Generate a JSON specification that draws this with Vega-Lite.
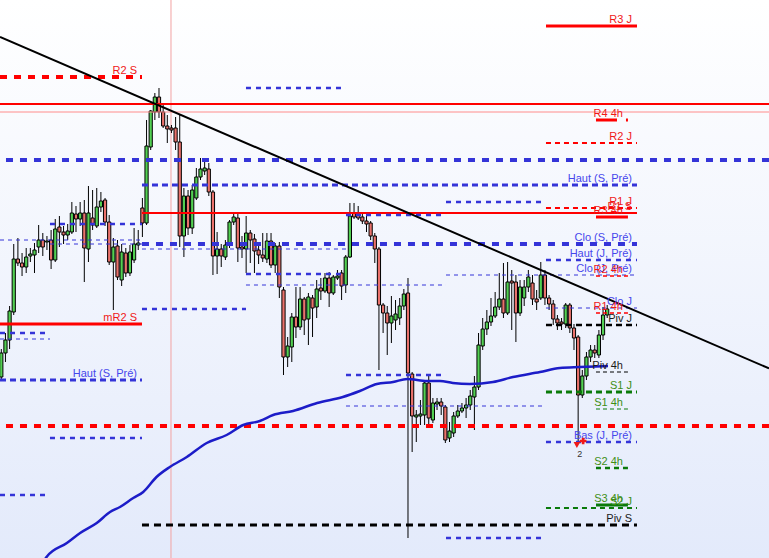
{
  "$schema": "https://vega.github.io/schema/vega-lite/v6.json",
  "width": 769,
  "height": 558,
  "padding": 0,
  "autosize": {"type": "none"},
  "config": {
    "view": {
      "stroke": null,
      "fill": {"gradient": "linear", "x1": 0, "y1": 0, "x2": 0, "y2": 1,
               "stops": [{"offset": 0, "color": "#ffffff"}, {"offset": 1, "color": "#e3eafb"}]}
    },
    "scale": {"continuousPadding": 0}
  },
  "datasets": {
    "candles": [
      {"i":0,"o":1.1223,"h":1.1251,"l":1.1220,"c":1.1247},
      {"i":1,"o":1.1247,"h":1.1267,"l":1.1238,"c":1.1260},
      {"i":2,"o":1.1260,"h":1.1294,"l":1.1251,"c":1.1289},
      {"i":3,"o":1.1288,"h":1.1356,"l":1.1285,"c":1.1341},
      {"i":4,"o":1.1341,"h":1.1362,"l":1.1334,"c":1.1337},
      {"i":5,"o":1.1337,"h":1.1347,"l":1.1324,"c":1.1333},
      {"i":6,"o":1.1333,"h":1.1352,"l":1.1327,"c":1.1343},
      {"i":7,"o":1.1344,"h":1.1352,"l":1.1338,"c":1.1346},
      {"i":8,"o":1.1345,"h":1.1357,"l":1.1327,"c":1.1350},
      {"i":9,"o":1.1353,"h":1.1375,"l":1.1347,"c":1.1360},
      {"i":10,"o":1.1360,"h":1.1367,"l":1.1344,"c":1.1353},
      {"i":11,"o":1.1358,"h":1.1364,"l":1.1350,"c":1.1359},
      {"i":12,"o":1.1360,"h":1.1370,"l":1.1331,"c":1.1340},
      {"i":13,"o":1.1340,"h":1.1381,"l":1.1338,"c":1.1371},
      {"i":14,"o":1.1373,"h":1.1384,"l":1.1353,"c":1.1368},
      {"i":15,"o":1.1368,"h":1.1374,"l":1.1356,"c":1.1365},
      {"i":16,"o":1.1365,"h":1.1376,"l":1.1360,"c":1.1369},
      {"i":17,"o":1.1368,"h":1.1398,"l":1.1366,"c":1.1387},
      {"i":18,"o":1.1386,"h":1.1394,"l":1.1368,"c":1.1381},
      {"i":19,"o":1.1381,"h":1.1398,"l":1.1374,"c":1.1387},
      {"i":20,"o":1.1387,"h":1.1400,"l":1.1318,"c":1.1352},
      {"i":21,"o":1.1351,"h":1.1414,"l":1.1338,"c":1.1387},
      {"i":22,"o":1.1382,"h":1.1410,"l":1.1370,"c":1.1375},
      {"i":23,"o":1.1374,"h":1.1412,"l":1.1372,"c":1.1393},
      {"i":24,"o":1.1393,"h":1.1408,"l":1.1388,"c":1.1399},
      {"i":25,"o":1.1400,"h":1.1402,"l":1.1374,"c":1.1378},
      {"i":26,"o":1.1378,"h":1.1385,"l":1.1335,"c":1.1338},
      {"i":27,"o":1.1338,"h":1.1362,"l":1.1290,"c":1.1353},
      {"i":28,"o":1.1354,"h":1.1360,"l":1.1320,"c":1.1323},
      {"i":29,"o":1.1320,"h":1.1356,"l":1.1314,"c":1.1348},
      {"i":30,"o":1.1347,"h":1.1352,"l":1.1323,"c":1.1327},
      {"i":31,"o":1.1327,"h":1.1355,"l":1.1324,"c":1.1348},
      {"i":32,"o":1.1340,"h":1.1372,"l":1.1337,"c":1.1356},
      {"i":33,"o":1.1355,"h":1.1370,"l":1.1350,"c":1.1357},
      {"i":34,"o":1.1392,"h":1.1402,"l":1.1363,"c":1.1377},
      {"i":35,"o":1.1377,"h":1.1480,"l":1.1375,"c":1.1454},
      {"i":36,"o":1.1453,"h":1.1490,"l":1.1450,"c":1.1489},
      {"i":37,"o":1.1488,"h":1.1507,"l":1.1480,"c":1.1503},
      {"i":38,"o":1.1503,"h":1.1512,"l":1.1482,"c":1.1488},
      {"i":39,"o":1.1488,"h":1.1495,"l":1.1472,"c":1.1474},
      {"i":40,"o":1.1474,"h":1.1485,"l":1.1457,"c":1.1471},
      {"i":41,"o":1.1472,"h":1.1475,"l":1.1467,"c":1.1470},
      {"i":42,"o":1.1472,"h":1.1483,"l":1.1450,"c":1.1458},
      {"i":43,"o":1.1458,"h":1.1485,"l":1.1353,"c":1.1364},
      {"i":44,"o":1.1364,"h":1.1412,"l":1.1343,"c":1.1404},
      {"i":45,"o":1.1404,"h":1.1410,"l":1.1365,"c":1.1372},
      {"i":46,"o":1.1372,"h":1.1415,"l":1.1366,"c":1.1410},
      {"i":47,"o":1.1402,"h":1.1432,"l":1.1400,"c":1.1423},
      {"i":48,"o":1.1423,"h":1.1442,"l":1.1420,"c":1.1431},
      {"i":49,"o":1.1429,"h":1.1440,"l":1.1425,"c":1.1432},
      {"i":50,"o":1.1431,"h":1.1437,"l":1.1404,"c":1.1408},
      {"i":51,"o":1.1408,"h":1.1410,"l":1.1325,"c":1.1344},
      {"i":52,"o":1.1344,"h":1.1368,"l":1.1326,"c":1.1351},
      {"i":53,"o":1.1351,"h":1.1356,"l":1.1333,"c":1.1344},
      {"i":54,"o":1.1343,"h":1.1360,"l":1.1340,"c":1.1355},
      {"i":55,"o":1.1355,"h":1.1380,"l":1.1352,"c":1.1378},
      {"i":56,"o":1.1378,"h":1.1386,"l":1.1375,"c":1.1383},
      {"i":57,"o":1.1382,"h":1.1386,"l":1.1338,"c":1.1352},
      {"i":58,"o":1.1353,"h":1.1364,"l":1.1342,"c":1.1351},
      {"i":59,"o":1.1351,"h":1.1384,"l":1.1327,"c":1.1367},
      {"i":60,"o":1.1367,"h":1.1370,"l":1.1337,"c":1.1360},
      {"i":61,"o":1.1361,"h":1.1366,"l":1.1327,"c":1.1349},
      {"i":62,"o":1.1350,"h":1.1356,"l":1.1336,"c":1.1345},
      {"i":63,"o":1.1345,"h":1.1367,"l":1.1338,"c":1.1342},
      {"i":64,"o":1.1341,"h":1.1367,"l":1.1337,"c":1.1359},
      {"i":65,"o":1.1359,"h":1.1367,"l":1.1332,"c":1.1335},
      {"i":66,"o":1.1335,"h":1.1357,"l":1.1327,"c":1.1354},
      {"i":67,"o":1.1354,"h":1.1358,"l":1.1302,"c":1.1313},
      {"i":68,"o":1.1310,"h":1.1313,"l":1.1225,"c":1.1243},
      {"i":69,"o":1.1243,"h":1.1263,"l":1.1233,"c":1.1254},
      {"i":70,"o":1.1253,"h":1.1287,"l":1.1238,"c":1.1283},
      {"i":71,"o":1.1283,"h":1.1313,"l":1.1262,"c":1.1273},
      {"i":72,"o":1.1273,"h":1.1313,"l":1.1270,"c":1.1301},
      {"i":73,"o":1.1301,"h":1.1303,"l":1.1265,"c":1.1280},
      {"i":74,"o":1.1281,"h":1.1307,"l":1.1255,"c":1.1303},
      {"i":75,"o":1.1302,"h":1.1305,"l":1.1263,"c":1.1292},
      {"i":76,"o":1.1293,"h":1.1320,"l":1.1282,"c":1.1311},
      {"i":77,"o":1.1312,"h":1.1322,"l":1.1300,"c":1.1309},
      {"i":78,"o":1.1309,"h":1.1327,"l":1.1307,"c":1.1322},
      {"i":79,"o":1.1322,"h":1.1328,"l":1.1293,"c":1.1307},
      {"i":80,"o":1.1307,"h":1.1325,"l":1.1305,"c":1.1323},
      {"i":81,"o":1.1322,"h":1.1330,"l":1.1320,"c":1.1324},
      {"i":82,"o":1.1327,"h":1.1330,"l":1.1300,"c":1.1314},
      {"i":83,"o":1.1315,"h":1.1345,"l":1.1307,"c":1.1343},
      {"i":84,"o":1.1343,"h":1.1397,"l":1.1342,"c":1.1384},
      {"i":85,"o":1.1387,"h":1.1397,"l":1.1381,"c":1.1383},
      {"i":86,"o":1.1386,"h":1.1394,"l":1.1380,"c":1.1382},
      {"i":87,"o":1.1383,"h":1.1388,"l":1.1376,"c":1.1379},
      {"i":88,"o":1.1379,"h":1.1384,"l":1.1368,"c":1.1376},
      {"i":89,"o":1.1377,"h":1.1379,"l":1.1360,"c":1.1364},
      {"i":90,"o":1.1364,"h":1.1367,"l":1.1337,"c":1.1351},
      {"i":91,"o":1.1351,"h":1.1353,"l":1.1230,"c":1.1295},
      {"i":92,"o":1.1295,"h":1.1297,"l":1.1267,"c":1.1287},
      {"i":93,"o":1.1287,"h":1.1294,"l":1.1245,"c":1.1277},
      {"i":94,"o":1.1277,"h":1.1304,"l":1.1257,"c":1.1284},
      {"i":95,"o":1.1280,"h":1.1300,"l":1.1270,"c":1.1286},
      {"i":96,"o":1.1282,"h":1.1302,"l":1.1275,"c":1.1294},
      {"i":97,"o":1.1294,"h":1.1311,"l":1.1290,"c":1.1306},
      {"i":98,"o":1.1307,"h":1.1322,"l":1.1062,"c":1.1227},
      {"i":99,"o":1.1226,"h":1.1228,"l":1.1148,"c":1.1184},
      {"i":100,"o":1.1183,"h":1.1190,"l":1.1158,"c":1.1185},
      {"i":101,"o":1.1184,"h":1.1200,"l":1.1175,"c":1.1186},
      {"i":102,"o":1.1185,"h":1.1220,"l":1.1175,"c":1.1217},
      {"i":103,"o":1.1217,"h":1.1225,"l":1.1175,"c":1.1182},
      {"i":104,"o":1.1180,"h":1.1202,"l":1.1177,"c":1.1197},
      {"i":105,"o":1.1196,"h":1.1202,"l":1.1190,"c":1.1198},
      {"i":106,"o":1.1198,"h":1.1202,"l":1.1185,"c":1.1194},
      {"i":107,"o":1.1193,"h":1.1195,"l":1.1157,"c":1.1160},
      {"i":108,"o":1.1162,"h":1.1178,"l":1.1158,"c":1.1169},
      {"i":109,"o":1.1167,"h":1.1188,"l":1.1163,"c":1.1184},
      {"i":110,"o":1.1184,"h":1.1195,"l":1.1182,"c":1.1189},
      {"i":111,"o":1.1189,"h":1.1197,"l":1.1187,"c":1.1192},
      {"i":112,"o":1.1192,"h":1.1202,"l":1.1182,"c":1.1195},
      {"i":113,"o":1.1195,"h":1.1210,"l":1.1190,"c":1.1204},
      {"i":114,"o":1.1203,"h":1.1224,"l":1.1170,"c":1.1213},
      {"i":115,"o":1.1213,"h":1.1267,"l":1.1210,"c":1.1255},
      {"i":116,"o":1.1254,"h":1.1282,"l":1.1250,"c":1.1271},
      {"i":117,"o":1.1271,"h":1.1290,"l":1.1265,"c":1.1278},
      {"i":118,"o":1.1278,"h":1.1302,"l":1.1274,"c":1.1284},
      {"i":119,"o":1.1284,"h":1.1308,"l":1.1282,"c":1.1293},
      {"i":120,"o":1.1293,"h":1.1327,"l":1.1290,"c":1.1301},
      {"i":121,"o":1.1301,"h":1.1337,"l":1.1282,"c":1.1287},
      {"i":122,"o":1.1287,"h":1.1338,"l":1.1285,"c":1.1318},
      {"i":123,"o":1.1319,"h":1.1330,"l":1.1270,"c":1.1317},
      {"i":124,"o":1.1318,"h":1.1325,"l":1.1258,"c":1.1287},
      {"i":125,"o":1.1287,"h":1.1320,"l":1.1284,"c":1.1313},
      {"i":126,"o":1.1302,"h":1.1320,"l":1.1294,"c":1.1313},
      {"i":127,"o":1.1313,"h":1.1330,"l":1.1308,"c":1.1323},
      {"i":128,"o":1.1317,"h":1.1325,"l":1.1295,"c":1.1301},
      {"i":129,"o":1.1301,"h":1.1310,"l":1.1290,"c":1.1298},
      {"i":130,"o":1.1302,"h":1.1338,"l":1.1300,"c":1.1325},
      {"i":131,"o":1.1325,"h":1.1330,"l":1.1295,"c":1.1302},
      {"i":132,"o":1.1302,"h":1.1305,"l":1.1290,"c":1.1296},
      {"i":133,"o":1.1296,"h":1.1300,"l":1.1275,"c":1.1281},
      {"i":134,"o":1.1281,"h":1.1285,"l":1.1270,"c":1.1277},
      {"i":135,"o":1.1278,"h":1.1282,"l":1.1270,"c":1.1276},
      {"i":136,"o":1.1276,"h":1.1297,"l":1.1272,"c":1.1295},
      {"i":137,"o":1.1295,"h":1.1297,"l":1.1267,"c":1.1272},
      {"i":138,"o":1.1272,"h":1.1276,"l":1.1250,"c":1.1262},
      {"i":139,"o":1.1263,"h":1.1265,"l":1.1159,"c":1.1205},
      {"i":140,"o":1.1205,"h":1.1230,"l":1.1202,"c":1.1224},
      {"i":141,"o":1.1224,"h":1.1248,"l":1.1220,"c":1.1243},
      {"i":142,"o":1.1243,"h":1.1255,"l":1.1238,"c":1.1250},
      {"i":143,"o":1.1250,"h":1.1255,"l":1.1242,"c":1.1247},
      {"i":144,"o":1.1245,"h":1.1270,"l":1.1242,"c":1.1265},
      {"i":145,"o":1.1265,"h":1.1293,"l":1.1260,"c":1.1285},
      {"i":146,"o":1.1285,"h":1.1295,"l":1.1282,"c":1.1291}
    ],
    "levels": [
      {"x0":-0.313,"x1":33.90,"p":1.1523,"cat":"res_week","label":"R2 S"},
      {"x0":58.96,"x1":83.06,"p":1.1512,"cat":"ref","label":null},
      {"x0":-0.313,"x1":184.99,"p":1.1496,"cat":"res_main","label":null},
      {"x0":-0.313,"x1":184.99,"p":1.1488,"cat":"ref_light","label":null},
      {"x0":131.25,"x1":153.18,"p":1.1574,"cat":"res_key","label":"R3 J"},
      {"x0":143.3,"x1":151.0,"p":1.1480,"cat":"res_4h_strong","label":"R4 4h"},
      {"x0":131.25,"x1":153.18,"p":1.1457,"cat":"res_day","label":"R2 J"},
      {"x0":1.13,"x1":184.99,"p":1.1440,"cat":"ref_week_big","label":null},
      {"x0":33.90,"x1":153.18,"p":1.1415,"cat":"ref_week","label":"Haut (S, Pré)"},
      {"x0":107.16,"x1":131.25,"p":1.1398,"cat":"ref","label":null},
      {"x0":131.25,"x1":153.18,"p":1.1392,"cat":"res_day","label":"R1 J"},
      {"x0":33.90,"x1":153.18,"p":1.1387,"cat":"res_main","label":"R1 S"},
      {"x0":143.3,"x1":151.0,"p":1.1383,"cat":"res_4h_bold","label":"R3 4h"},
      {"x0":83.06,"x1":107.16,"p":1.1385,"cat":"ref","label":null},
      {"x0":11.73,"x1":33.90,"p":1.1376,"cat":"ref","label":null},
      {"x0":-0.313,"x1":33.90,"p":1.1360,"cat":"ref_thin","label":null},
      {"x0":11.73,"x1":33.90,"p":1.1356,"cat":"ref_thin","label":null},
      {"x0":33.90,"x1":153.18,"p":1.1356,"cat":"ref_week_big","label":"Clo (S, Pré)"},
      {"x0":33.90,"x1":83.06,"p":1.1351,"cat":"ref_thin","label":null},
      {"x0":131.25,"x1":153.18,"p":1.1340,"cat":"ref","label":"Haut (J, Pré)"},
      {"x0":107.16,"x1":153.18,"p":1.1325,"cat":"ref_thin","label":"Clo (J, Pré)"},
      {"x0":143.3,"x1":151.0,"p":1.1324,"cat":"res_4h","label":"R2 4h"},
      {"x0":58.96,"x1":83.06,"p":1.1326,"cat":"ref","label":null},
      {"x0":58.96,"x1":107.16,"p":1.1315,"cat":"ref_thin","label":null},
      {"x0":33.90,"x1":58.96,"p":1.1291,"cat":"ref","label":null},
      {"x0":131.25,"x1":153.18,"p":1.1292,"cat":"ref_thin","label":"Clo J"},
      {"x0":143.3,"x1":151.0,"p":1.1287,"cat":"res_4h","label":"R1 4h"},
      {"x0":131.25,"x1":153.18,"p":1.1275,"cat":"piv_day","label":"Piv J"},
      {"x0":-0.313,"x1":33.90,"p":1.1276,"cat":"res_key","label":"mR2 S"},
      {"x0":-0.313,"x1":10.53,"p":1.1267,"cat":"ref","label":null},
      {"x0":-0.313,"x1":11.73,"p":1.1261,"cat":"ref_thin","label":null},
      {"x0":-0.313,"x1":33.90,"p":1.1220,"cat":"ref_week","label":"Haut (S, Pré)"},
      {"x0":143.3,"x1":151.0,"p":1.1228,"cat":"piv_4h","label":"Piv 4h"},
      {"x0":83.06,"x1":107.16,"p":1.1225,"cat":"ref","label":null},
      {"x0":131.25,"x1":153.18,"p":1.1208,"cat":"sup_day","label":"S1 J"},
      {"x0":83.06,"x1":131.25,"p":1.1194,"cat":"ref_thin","label":null},
      {"x0":143.3,"x1":151.0,"p":1.1191,"cat":"sup_4h_thin","label":"S1 4h"},
      {"x0":1.13,"x1":184.99,"p":1.1174,"cat":"res_week","label":null},
      {"x0":11.73,"x1":33.90,"p":1.1162,"cat":"ref","label":null},
      {"x0":131.25,"x1":153.18,"p":1.1158,"cat":"ref","label":"Bas (J, Pré)"},
      {"x0":143.3,"x1":151.0,"p":1.1132,"cat":"sup_4h","label":"S2 4h"},
      {"x0":-0.313,"x1":10.53,"p":1.1105,"cat":"ref","label":null},
      {"x0":143.3,"x1":151.0,"p":1.1095,"cat":"sup_4h_bold","label":"S3 4h"},
      {"x0":131.25,"x1":153.18,"p":1.1092,"cat":"sup_day2","label":"S2 J"},
      {"x0":33.90,"x1":153.18,"p":1.1075,"cat":"piv_week","label":"Piv S"},
      {"x0":107.16,"x1":131.25,"p":1.1062,"cat":"ref","label":null}
    ],
    "ma": [
      {"i":9.5,"v":1.1034},{"i":10.9,"v":1.1043},{"i":15.8,"v":1.1057},{"i":19.0,"v":1.1067},
      {"i":23.0,"v":1.1077},{"i":26.2,"v":1.1088},{"i":28.6,"v":1.1093},{"i":31.8,"v":1.1102},
      {"i":34.2,"v":1.1108},{"i":37.4,"v":1.1123},{"i":40.6,"v":1.1133},{"i":44.7,"v":1.1143},
      {"i":49.5,"v":1.1157},{"i":54.3,"v":1.1165},{"i":58.3,"v":1.1175},{"i":62.3,"v":1.1179},
      {"i":65.5,"v":1.1185},{"i":70.3,"v":1.1189},{"i":76.1,"v":1.1197},{"i":82.3,"v":1.1203},
      {"i":86.4,"v":1.1209},{"i":90.5,"v":1.1216},{"i":94.4,"v":1.1218},{"i":97.8,"v":1.1221},
      {"i":102.6,"v":1.1219},{"i":105.7,"v":1.1219},{"i":108.8,"v":1.1217},{"i":112.9,"v":1.1216},
      {"i":118.5,"v":1.1218},{"i":123.3,"v":1.1223},{"i":129.8,"v":1.1228},{"i":134.6,"v":1.1232},
      {"i":139.4,"v":1.1233},{"i":146.2,"v":1.1234}
    ],
    "trend": [
      {"i":-0.313,"v":1.1563},
      {"i":184.99,"v":1.12316}
    ],
    "cursor": [{"i":40.89}],
    "trades": [
      {"i":138.7,"p":1.1155,"side":"sell"},
      {"i":140.2,"p":1.1159,"side":"buy"}
    ],
    "tradecount": [{"i":139.4,"p":1.1146,"n":"2"}]
  },
  "layer": [
    {
      "data": {"name": "cursor"},
      "mark": {"type": "rule", "color": "#f2a2a2", "strokeWidth": 1},
      "encoding": {
        "x": {"field": "i", "type": "quantitative", "axis": null,
              "scale": {"domain": [-0.313, 184.99], "nice": false, "zero": false, "padding": 0}}
      }
    },
    {
      "data": {"name": "candles"},
      "mark": {"type": "rule", "color": "#000000", "strokeWidth": 1},
      "encoding": {
        "x": {"field": "i", "type": "quantitative", "axis": null,
              "scale": {"domain": [-0.313, 184.99], "nice": false, "zero": false, "padding": 0}},
        "y": {"field": "l", "type": "quantitative", "axis": null,
              "scale": {"domain": [1.1042, 1.1600], "nice": false, "zero": false, "padding": 0}},
        "y2": {"field": "h"}
      }
    },
    {
      "data": {"name": "candles"},
      "mark": {"type": "bar", "size": 3.2, "stroke": "#000000", "strokeWidth": 1},
      "encoding": {
        "x": {"field": "i", "type": "quantitative", "axis": null,
              "scale": {"domain": [-0.313, 184.99], "nice": false, "zero": false, "padding": 0}},
        "y": {"field": "o", "type": "quantitative", "axis": null,
              "scale": {"domain": [1.1042, 1.1600], "nice": false, "zero": false, "padding": 0}},
        "y2": {"field": "c"},
        "fill": {"condition": {"test": "datum.c >= datum.o", "value": "#52d052"}, "value": "#ea726c"}
      }
    },
    {
      "data": {"name": "levels"},
      "mark": {"type": "rule", "clip": true},
      "encoding": {
        "x": {"field": "x0", "type": "quantitative", "axis": null,
              "scale": {"domain": [-0.313, 184.99], "nice": false, "zero": false, "padding": 0}},
        "x2": {"field": "x1"},
        "y": {"field": "p", "type": "quantitative", "axis": null,
              "scale": {"domain": [1.1042, 1.1600], "nice": false, "zero": false, "padding": 0}},
        "color": {"field": "cat", "type": "nominal", "legend": null,
          "scale": {
            "domain": ["res_main","res_key","res_week","res_day","res_4h","res_4h_strong","res_4h_bold","ref_light","ref_week_big","ref_week","ref","ref_thin","piv_week","piv_day","piv_4h","sup_day","sup_day2","sup_4h_thin","sup_4h","sup_4h_bold"],
            "range": ["#ff0000","#ff0000","#ff0000","#ff0000","#ff0000","#ff0000","#ff0000","#ff8c8c","#3434d8","#3434d8","#3434d8","#3434d8","#000000","#000000","#000000","#0a7a0a","#0a7a0a","#0a7a0a","#0a7a0a","#0a7a0a"]
          }},
        "strokeDash": {"field": "cat", "type": "nominal", "legend": null,
          "scale": {
            "domain": ["res_main","res_key","res_week","res_day","res_4h","res_4h_strong","res_4h_bold","ref_light","ref_week_big","ref_week","ref","ref_thin","piv_week","piv_day","piv_4h","sup_day","sup_day2","sup_4h_thin","sup_4h","sup_4h_bold"],
            "range": [[1,0],[1,0],[7,7],[5,4],[4,3],[21,9],[1,0],[1,0],[7,7],[6,4],[5,5],[4,4],[7,5],[6,4],[4,3],[6,4],[5,4],[4,3],[5,4],[1,0]]
          }},
        "strokeWidth": {"field": "cat", "type": "nominal", "legend": null,
          "scale": {
            "type": "ordinal",
            "domain": ["res_main","res_key","res_week","res_day","res_4h","res_4h_strong","res_4h_bold","ref_light","ref_week_big","ref_week","ref","ref_thin","piv_week","piv_day","piv_4h","sup_day","sup_day2","sup_4h_thin","sup_4h","sup_4h_bold"],
            "range": [2,3,4,2,1.5,3,3,1,4,3,2.5,1,3,2.5,1,3,2,1,2.5,3]
          }}
      }
    },
    {
      "data": {"name": "ma"},
      "mark": {"type": "line", "color": "#1c1cc8", "strokeWidth": 2.5, "interpolate": "monotone", "clip": true},
      "encoding": {
        "x": {"field": "i", "type": "quantitative", "axis": null,
              "scale": {"domain": [-0.313, 184.99], "nice": false, "zero": false, "padding": 0}},
        "y": {"field": "v", "type": "quantitative", "axis": null,
              "scale": {"domain": [1.1042, 1.1600], "nice": false, "zero": false, "padding": 0}}
      }
    },
    {
      "data": {"name": "trend"},
      "mark": {"type": "line", "color": "#000000", "strokeWidth": 2, "clip": true},
      "encoding": {
        "x": {"field": "i", "type": "quantitative", "axis": null,
              "scale": {"domain": [-0.313, 184.99], "nice": false, "zero": false, "padding": 0}},
        "y": {"field": "v", "type": "quantitative", "axis": null,
              "scale": {"domain": [1.1042, 1.1600], "nice": false, "zero": false, "padding": 0}}
      }
    },
    {
      "data": {"name": "levels"},
      "transform": [{"filter": "datum.label != null"}],
      "mark": {"type": "text", "align": "right", "baseline": "alphabetic", "dx": -5, "dy": -3,
               "font": "Liberation Sans", "fontSize": 11},
      "encoding": {
        "x": {"field": "x1", "type": "quantitative", "axis": null,
              "scale": {"domain": [-0.313, 184.99], "nice": false, "zero": false, "padding": 0}},
        "y": {"field": "p", "type": "quantitative", "axis": null,
              "scale": {"domain": [1.1042, 1.1600], "nice": false, "zero": false, "padding": 0}},
        "text": {"field": "label"},
        "fill": {"field": "cat", "type": "nominal", "legend": null,
          "scale": {
            "domain": ["res_main","res_key","res_week","res_day","res_4h","res_4h_strong","res_4h_bold","ref_light","ref_week_big","ref_week","ref","ref_thin","piv_week","piv_day","piv_4h","sup_day","sup_day2","sup_4h_thin","sup_4h","sup_4h_bold"],
            "range": ["#f01818","#f01818","#f01818","#f01818","#f01818","#f01818","#f01818","#f01818","#4646ec","#4646ec","#4646ec","#4646ec","#1a1a1a","#1a1a1a","#1a1a1a","#3f8f16","#3f8f16","#3f8f16","#3f8f16","#3f8f16"]
          }}
      }
    },
    {
      "data": {"name": "trades"},
      "mark": {"type": "point", "filled": true, "size": 45, "opacity": 1},
      "encoding": {
        "x": {"field": "i", "type": "quantitative", "axis": null,
              "scale": {"domain": [-0.313, 184.99], "nice": false, "zero": false, "padding": 0}},
        "y": {"field": "p", "type": "quantitative", "axis": null,
              "scale": {"domain": [1.1042, 1.1600], "nice": false, "zero": false, "padding": 0}},
        "shape": {"field": "side", "type": "nominal", "legend": null,
                  "scale": {"domain": ["sell", "buy"], "range": ["triangle-down", "cross"]}},
        "fill": {"field": "side", "type": "nominal", "legend": null,
                 "scale": {"domain": ["sell", "buy"], "range": ["#f05050", "#22aa22"]}}
      }
    },
    {
      "data": {"name": "tradecount"},
      "mark": {"type": "text", "font": "Liberation Sans", "fontSize": 9, "color": "#333333", "baseline": "middle"},
      "encoding": {
        "x": {"field": "i", "type": "quantitative", "axis": null,
              "scale": {"domain": [-0.313, 184.99], "nice": false, "zero": false, "padding": 0}},
        "y": {"field": "p", "type": "quantitative", "axis": null,
              "scale": {"domain": [1.1042, 1.1600], "nice": false, "zero": false, "padding": 0}},
        "text": {"field": "n"}
      }
    }
  ]
}
